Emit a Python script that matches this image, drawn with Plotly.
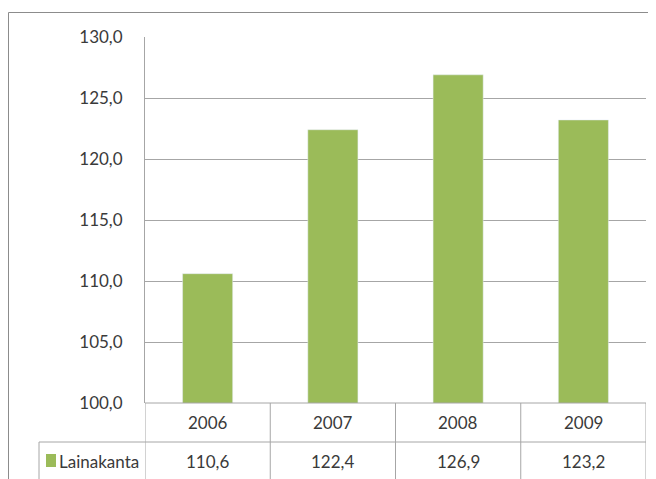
import plotly.graph_objects as go

categories = ["2006", "2007", "2008", "2009"]
values = [110.6, 122.4, 126.9, 123.2]
series_name = "Lainakanta"
y_ticks = [100, 105, 110, 115, 120, 125, 130]

BAR = "#9BBB59"
GRID = "#A6A6A6"
TXT = "#3A3A3A"
FONT = "Lato"
FS = 17

# the page places the figure 8px in from the top-left corner
OX, OY = 8, 8
W, H = 656 - OX, 479 - OY
ML, MR, MT, MB = 145 - OX, 10, 37 - OY, 479 - 403
PW = W - ML - MR
PH = H - MT - MB

def px_x(px):
    return (px - OX - ML) / PW

def px_y(py):
    return (403 - py) / PH

fig = go.Figure(go.Bar(
    x=categories, y=values, marker_color=BAR, width=0.4, name=series_name,
    showlegend=False,
))

shapes = []
annotations = []

row1_bot = px_y(442)
bottom = px_y(520)
legend_left = px_x(39)

# horizontal table lines
shapes.append(dict(type="line", xref="paper", yref="paper", x0=0, x1=1, y0=0, y1=0,
                   line=dict(color=GRID, width=1)))
shapes.append(dict(type="line", xref="paper", yref="paper", x0=legend_left, x1=1,
                   y0=row1_bot, y1=row1_bot, line=dict(color=GRID, width=1)))
# left edge of legend column
shapes.append(dict(type="line", xref="paper", yref="paper", x0=legend_left, x1=legend_left,
                   y0=row1_bot, y1=bottom, line=dict(color=GRID, width=1)))
# vertical category boundaries
n = len(categories)
for i in range(n + 1):
    xb = i - 0.5
    shapes.append(dict(type="line", xref="x", yref="paper", x0=xb, x1=xb,
                       y0=0, y1=bottom, line=dict(color=GRID, width=1)))

# legend key
shapes.append(dict(type="rect", xref="paper", yref="paper",
                   x0=px_x(46), x1=px_x(56), y0=px_y(467), y1=px_y(454),
                   fillcolor=BAR, line=dict(width=0)))

# outer border
shapes.append(dict(type="rect", xref="paper", yref="paper",
                   x0=px_x(8.5), x1=px_x(700), y0=px_y(520), y1=px_y(12.5),
                   line=dict(color="#8C8C8C", width=1), fillcolor="rgba(0,0,0,0)"))

for i, (c, v) in enumerate(zip(categories, values)):
    annotations.append(dict(x=i, xref="x", y=px_y(422), yref="paper", text=c,
                            showarrow=False, font=dict(family=FONT, size=FS, color=TXT),
                            xanchor="center", yanchor="middle"))
    annotations.append(dict(x=i, xref="x", y=px_y(461), yref="paper",
                            text=f"{v:.1f}".replace(".", ","),
                            showarrow=False, font=dict(family=FONT, size=FS, color=TXT),
                            xanchor="center", yanchor="middle"))

annotations.append(dict(x=px_x(57), xref="paper", y=px_y(461), yref="paper", text=series_name,
                        showarrow=False, font=dict(family=FONT, size=FS, color=TXT),
                        xanchor="left", yanchor="middle"))

fig.update_layout(
    width=W, height=H,
    margin=dict(l=ML, r=MR, t=MT, b=MB),
    paper_bgcolor="white", plot_bgcolor="white",
    separators=", ",
    xaxis=dict(type="category", showticklabels=False, showgrid=False, zeroline=False,
               showline=False, range=[-0.5, n - 0.5], fixedrange=True),
    yaxis=dict(range=[100, 130], tickvals=y_ticks, tickformat=".1f",
               showgrid=True, gridcolor=GRID, gridwidth=1, zeroline=False,
               showline=True, linecolor=GRID, linewidth=1,
               ticks="", ticklabelstandoff=18,
               tickfont=dict(family=FONT, size=FS, color=TXT)),
    shapes=shapes,
    annotations=annotations,
    showlegend=False,
)

fig.write_html("out.html")
